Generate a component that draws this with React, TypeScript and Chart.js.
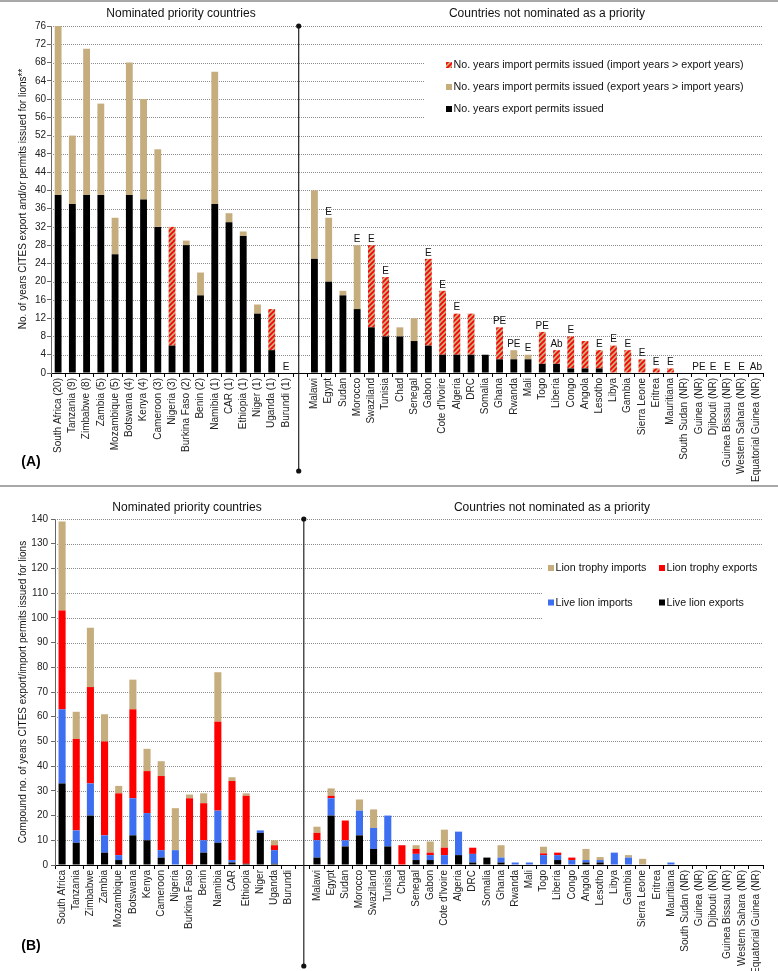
import React, { useEffect, useRef } from 'react';
import { Chart, registerables } from 'chart.js';
Chart.register(...registerables);

const FONT = '"Liberation Sans", Arial, Helvetica, sans-serif';
const TAN = '#c6ad7e';
const RED = '#ff0000';
const BLUE = '#3d6ff0';
const BLACK = '#000000';

// ---------- categories ----------
const priorityA = ['South Africa (20)', 'Tanzania (9)', 'Zimbabwe (8)', 'Zambia (5)', 'Mozambique (5)', 'Botswana (4)', 'Kenya (4)', 'Cameroon (3)', 'Nigeria (3)', 'Burkina Faso (2)', 'Benin (2)', 'Namibia (1)', 'CAR (1)', 'Ethiopia (1)', 'Niger (1)', 'Uganda (1)', 'Burundi (1)'];
const priorityB = ['South Africa', 'Tanzania', 'Zimbabwe', 'Zambia', 'Mozambique', 'Botswana', 'Kenya', 'Cameroon', 'Nigeria', 'Burkina Faso', 'Benin', 'Namibia', 'CAR', 'Ethiopia', 'Niger', 'Uganda', 'Burundi'];
const others = ['Malawi', 'Egypt', 'Sudan', 'Morocco', 'Swaziland', 'Tunisia', 'Chad', 'Senegal', 'Gabon', "Cote d'Ivoire", 'Algeria', 'DRC', 'Somalia', 'Ghana', 'Rwanda', 'Mali', 'Togo', 'Liberia', 'Congo', 'Angola', 'Lesotho', 'Libya', 'Gambia', 'Sierra Leone', 'Eritrea', 'Mauritiana', 'South Sudan (NR)', 'Guinea (NR)', 'Djibouti (NR)', 'Guinea Bissau (NR)', 'Western Sahara (NR)', 'Equatorial Guinea (NR)'];

// ---------- panel A values ----------
const exportYearsPri = [39, 37, 39, 39, 26, 39, 38, 32, 6, 28, 17, 37, 33, 30, 13, 5, 0];
const importTanPri = [37, 15, 32, 20, 8, 29, 22, 17, 0, 1, 5, 29, 2, 1, 2, 0, 0];
const importHatchPri = [0, 0, 0, 0, 0, 0, 0, 0, 26, 0, 0, 0, 0, 0, 0, 9, 0];
const notesPri = ['', '', '', '', '', '', '', '', '', '', '', '', '', '', '', '', 'E'];

const exportYearsOther = [25, 20, 17, 14, 10, 8, 8, 7, 6, 4, 4, 4, 4, 3, 3, 3, 2, 2, 1, 1, 1, 0, 0, 0, 0, 0, 0, 0, 0, 0, 0, 0];
const importTanOther = [15, 14, 1, 14, 0, 0, 2, 5, 0, 0, 0, 0, 0, 0, 2, 1, 0, 0, 0, 0, 0, 0, 0, 0, 0, 0, 0, 0, 0, 0, 0, 0];
const importHatchOther = [0, 0, 0, 0, 18, 13, 0, 0, 19, 14, 9, 9, 0, 7, 0, 0, 7, 3, 7, 6, 4, 6, 5, 3, 1, 1, 0, 0, 0, 0, 0, 0];
const notesOther = ['', 'E', '', 'E', 'E', 'E', '', '', 'E', 'E', 'E', '', '', 'PE', 'PE', 'E', 'PE', 'Ab', 'E', '', 'E', 'E', 'E', 'E', 'E', 'E', '', 'PE', 'E', 'E', 'E', 'Ab'];

// ---------- panel B values ----------
const liveExpPri = [33, 9, 20, 5, 2, 12, 10, 3, 0, 0, 5, 9, 1, 0.5, 13, 0.5, 0];
const liveImpPri = [30, 5, 13, 7, 2, 15, 11, 3, 6, 0, 5, 13, 1, 0, 1, 5.5, 0];
const trophyExpPri = [40, 37, 39, 38, 25, 36, 17, 30, 0, 27, 15, 36, 32, 27.5, 0, 2, 0];
const trophyImpPri = [36, 11, 24, 11, 3, 12, 9, 6, 17, 1.5, 4, 20, 1.5, 1, 0, 2, 0];

const liveExpOther = [3, 20, 7.5, 12, 6.5, 7.5, 0, 2, 2, 0, 4, 1, 3, 1, 0, 0, 0, 2, 0, 1, 1, 0, 0, 0, 0, 0, 0, 0, 0, 0, 0, 0];
const liveImpOther = [7, 7, 2.5, 10, 8.5, 12.5, 0, 2.5, 2, 4, 9.5, 3.5, 0, 2, 1, 1, 4, 2, 2, 1, 1, 5, 3, 0, 0, 1, 0, 0, 0, 0, 0, 0];
const trophyExpOther = [3, 1, 8, 0, 0, 0, 8, 2, 1, 3, 0, 2.5, 0, 0, 0, 0, 0.7, 1, 1, 0, 0, 0, 0, 0, 0, 0, 0, 0, 0, 0, 0, 0];
const trophyImpOther = [2.5, 3, 0, 4.5, 7.5, 0, 0, 1.5, 4.5, 7.3, 0, 0, 0, 5, 0, 0, 2.7, 0, 0, 4.5, 1.2, 0, 1, 2.5, 0, 0, 0, 0, 0, 0, 0, 0];

const yTicksA = { max: 76, step: 4 };
const yTicksB = { max: 140, step: 10 };

const join = (a: any[], b: any[]) => [...a, null, ...b];

function makeHatch(): CanvasPattern {
  const c = document.createElement('canvas');
  c.width = 5; c.height = 5;
  const g = c.getContext('2d')!;
  g.fillStyle = TAN; g.fillRect(0, 0, 5, 5);
  g.strokeStyle = RED; g.lineWidth = 1.7;
  g.beginPath();
  g.moveTo(-1, 6); g.lineTo(6, -1);
  g.moveTo(-1, 1); g.lineTo(1, -1);
  g.moveTo(4, 6); g.lineTo(6, 4);
  g.stroke();
  return g.createPattern(c, 'repeat')!;
}

type LegendItem = { x: number; y: number; fill: any; text: string };
type PanelCfg = {
  titles: { text: string; x: number; y: number }[];
  yTitle: { text: string; x: number; y: number };
  panelLabel: { text: string; x: number; y: number };
  legendBox: { x: number; y: number; w: number; h: number };
  legend: LegendItem[];
  divider: { dx: number; bottom: number };
  notes?: string[];
  sepLines?: number[];
};

function panelPlugin(cfg: PanelCfg) {
  return {
    id: 'panelDeco',
    beforeDatasetsDraw(chart: any) {
      const { ctx, chartArea, scales } = chart;
      const y = scales.y;
      ctx.save();
      ctx.strokeStyle = '#8c8c8c';
      ctx.lineWidth = 1;
      ctx.setLineDash([1, 1]);
      y.ticks.forEach((t: any) => {
        if (t.value === 0) return;
        const py = Math.round(y.getPixelForValue(t.value)) + 0.5;
        ctx.beginPath();
        ctx.moveTo(chartArea.left, py);
        ctx.lineTo(chartArea.right, py);
        ctx.stroke();
      });
      ctx.restore();
    },
    afterDraw(chart: any) {
      const { ctx, chartArea, scales } = chart;
      const x = scales.x;
      const y = scales.y;
      ctx.save();
      // separator lines
      ctx.fillStyle = '#a8a8a8';
      (cfg.sepLines || []).forEach((ly) => ctx.fillRect(0, ly, chart.width, 2));
      // legend box
      const b = cfg.legendBox;
      ctx.fillStyle = '#ffffff';
      ctx.fillRect(b.x, b.y, b.w, b.h);
      ctx.font = `10.7px ${FONT}`;
      ctx.textBaseline = 'middle';
      ctx.textAlign = 'left';
      cfg.legend.forEach((it) => {
        ctx.fillStyle = it.fill;
        ctx.fillRect(it.x, it.y - 3, 6, 6);
        ctx.fillStyle = '#111';
        ctx.fillText(it.text, it.x + 7.5, it.y + 0.5);
      });
      // titles
      ctx.font = `12px ${FONT}`;
      ctx.textAlign = 'center';
      ctx.fillStyle = '#111';
      cfg.titles.forEach((t) => ctx.fillText(t.text, t.x, t.y));
      // y title
      ctx.save();
      ctx.translate(cfg.yTitle.x, cfg.yTitle.y);
      ctx.rotate(-Math.PI / 2);
      ctx.font = `10px ${FONT}`;
      ctx.fillStyle = '#111';
      ctx.fillText(cfg.yTitle.text, 0, 0);
      ctx.restore();
      // panel label
      ctx.font = `bold 14px ${FONT}`;
      ctx.fillStyle = '#000';
      ctx.fillText(cfg.panelLabel.text, cfg.panelLabel.x, cfg.panelLabel.y);
      // notes above bars
      if (cfg.notes) {
        ctx.font = `10px ${FONT}`;
        ctx.fillStyle = '#111';
        cfg.notes.forEach((n, i) => {
          if (!n) return;
          let total = 0;
          chart.data.datasets.forEach((ds: any) => { total += ds.data[i] || 0; });
          const px = x.getPixelForValue(i);
          const py = y.getPixelForValue(total) - 6;
          ctx.fillText(n, px, py);
        });
      }
      // divider
      const dx = x.getPixelForValue(17) + cfg.divider.dx;
      ctx.strokeStyle = '#222';
      ctx.lineWidth = 1.2;
      ctx.beginPath();
      ctx.moveTo(dx, chartArea.top);
      ctx.lineTo(dx, cfg.divider.bottom);
      ctx.stroke();
      ctx.fillStyle = '#111';
      [chartArea.top, cfg.divider.bottom].forEach((py) => {
        ctx.beginPath();
        ctx.arc(dx, py, 2.6, 0, Math.PI * 2);
        ctx.fill();
      });
      ctx.restore();
    },
  };
}

function makeChart(canvas: HTMLCanvasElement, labels: string[], datasets: any[], o: {
  padTop: number; padRight: number; yWidth: number; xHeight: number; yMax: number; yStep: number; barPct: number; yPad: number; cfg: PanelCfg;
}) {
  return new Chart(canvas, {
    type: 'bar',
    data: { labels, datasets },
    options: {
      responsive: false,
      animation: false,
      devicePixelRatio: 1,
      layout: { padding: { top: o.padTop, right: o.padRight, left: 0, bottom: 0 } },
      plugins: { legend: { display: false }, tooltip: { enabled: false }, title: { display: false } },
      datasets: { bar: { categoryPercentage: 1, barPercentage: o.barPct, borderWidth: 0 } },
      scales: {
        x: {
          stacked: true,
          grid: { drawOnChartArea: false, drawTicks: true, tickLength: 4, color: '#000', offset: true },
          border: { color: '#000', width: 1 },
          ticks: { autoSkip: false, minRotation: 90, maxRotation: 90, padding: 1, color: '#222', font: { family: FONT, size: 10 } },
          afterFit: (s: any) => { s.height = o.xHeight; },
        },
        y: {
          stacked: true,
          min: 0,
          max: o.yMax,
          ticks: { stepSize: o.yStep, color: '#222', padding: o.yPad, font: { family: FONT, size: 10 } },
          grid: { drawOnChartArea: false, drawTicks: true, tickLength: 4, color: '#666' },
          border: { color: '#666', width: 1 },
          afterFit: (s: any) => { s.width = o.yWidth; },
        },
      },
    } as any,
    plugins: [panelPlugin(o.cfg)],
  });
}

export default function App() {
  const refA = useRef<HTMLCanvasElement>(null);
  const refB = useRef<HTMLCanvasElement>(null);

  useEffect(() => {
    document.body.style.margin = '0';
    const hatch = makeHatch();
    const labelsA = join(priorityA, others) as string[];
    const labelsB = join(priorityB, others) as string[];
    labelsA[17] = '';
    labelsB[17] = '';

    const chartA = makeChart(refA.current!, labelsA, [
      { label: 'No. years export permits issued', data: join(exportYearsPri, exportYearsOther), backgroundColor: BLACK },
      { label: 'No. years import permits issued (export years > import years)', data: join(importTanPri, importTanOther), backgroundColor: TAN },
      { label: 'No. years import permits issued (import years > export years)', data: join(importHatchPri, importHatchOther), backgroundColor: hatch },
    ], {
      padTop: 26, padRight: 15, yWidth: 51, xHeight: 114, yMax: yTicksA.max, yStep: yTicksA.step, barPct: 0.48, yPad: 1,
      cfg: {
        titles: [
          { text: 'Nominated priority countries', x: 181, y: 14 },
          { text: 'Countries not nominated as a priority', x: 547, y: 14 },
        ],
        yTitle: { text: 'No. of years CITES export and/or permits issued for lions**', x: 23, y: 199 },
        panelLabel: { text: '(A)', x: 31, y: 462 },
        legendBox: { x: 425, y: 48, w: 345, h: 80 },
        legend: [
          { x: 446, y: 65, fill: hatch, text: 'No. years import permits issued (import years > export years)' },
          { x: 446, y: 87, fill: TAN, text: 'No. years import permits issued (export years > import years)' },
          { x: 446, y: 109, fill: BLACK, text: 'No. years export permits issued' },
        ],
        divider: { dx: -1.5, bottom: 471 },
        notes: [...notesPri, '', ...notesOther],
        sepLines: [0, 485],
      },
    });

    const chartB = makeChart(refB.current!, labelsB, [
      { label: 'Live lion exports', data: join(liveExpPri, liveExpOther), backgroundColor: BLACK },
      { label: 'Live lion imports', data: join(liveImpPri, liveImpOther), backgroundColor: BLUE },
      { label: 'Lion trophy exports', data: join(trophyExpPri, trophyExpOther), backgroundColor: RED },
      { label: 'Lion trophy imports', data: join(trophyImpPri, trophyImpOther), backgroundColor: TAN },
    ], {
      padTop: 32, padRight: 15, yWidth: 55, xHeight: 106, yMax: yTicksB.max, yStep: yTicksB.step, barPct: 0.5, yPad: 3,
      cfg: {
        titles: [
          { text: 'Nominated priority countries', x: 187, y: 21 },
          { text: 'Countries not nominated as a priority', x: 552, y: 21 },
        ],
        yTitle: { text: 'Compound no. of years CITES export/import permits issued for lions', x: 23, y: 205 },
        panelLabel: { text: '(B)', x: 31, y: 459 },
        legendBox: { x: 542, y: 60, w: 228, h: 90 },
        legend: [
          { x: 548, y: 81, fill: TAN, text: 'Lion trophy imports' },
          { x: 659, y: 81, fill: RED, text: 'Lion trophy exports' },
          { x: 548, y: 115.5, fill: BLUE, text: 'Live lion imports' },
          { x: 659, y: 115.5, fill: BLACK, text: 'Live lion exports' },
        ],
        divider: { dx: 1, bottom: 479 },
      },
    });

    return () => { chartA.destroy(); chartB.destroy(); };
  }, []);

  return (
    <div style={{ position: 'absolute', left: 0, top: 0, width: 778, height: 971, background: '#fff' }}>
      <canvas ref={refA} width={778} height={487} style={{ display: 'block', width: 778, height: 487 }} />
      <canvas ref={refB} width={778} height={484} style={{ display: 'block', width: 778, height: 484 }} />
    </div>
  );
}
